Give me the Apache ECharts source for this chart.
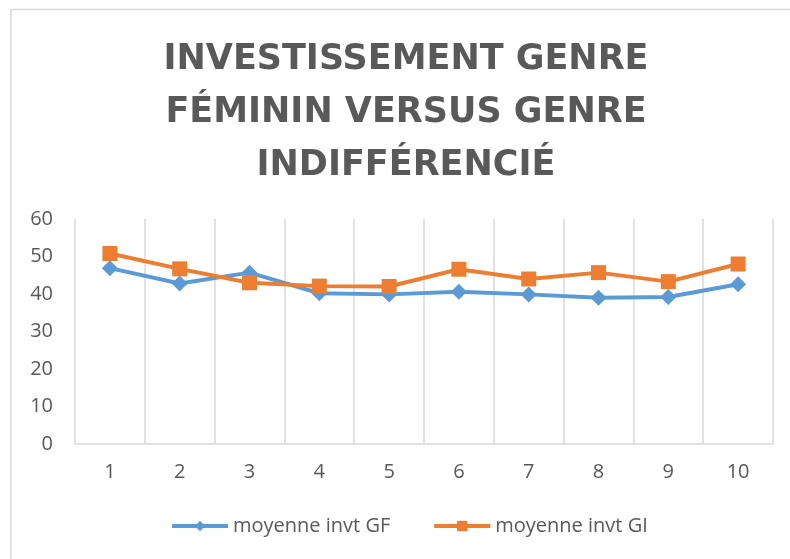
<!DOCTYPE html>
<html><head><meta charset="utf-8">
<script src="https://cdn.jsdelivr.net/npm/echarts@6/dist/echarts.min.js"></script>
<style>html,body{margin:0;padding:0;background:#fff}#c{width:790px;height:559px}</style>
</head><body><div id="c"></div>
<script>
const titleText = 'INVESTISSEMENT GENRE\nFÉMININ VERSUS GENRE\nINDIFFÉRENCIÉ';
const categories = ['1','2','3','4','5','6','7','8','9','10'];
const seriesGFName = 'moyenne invt GF';
const seriesGIName = 'moyenne invt GI';
const valuesGF = [46.9, 42.8, 45.7, 40.2, 39.9, 40.6, 39.9, 39.0, 39.2, 42.6];
const valuesGI = [50.8, 46.7, 43.0, 42.1, 42.0, 46.6, 44.0, 45.7, 43.3, 48.0];
const yMin = 0, yMax = 60, yStep = 10;

const chart = echarts.init(document.getElementById('c'));
const txt = '#595959';
const font = 'Open Sans';
chart.setOption({
  animation: false,
  backgroundColor: '#fff',
  graphic: [{type:'rect', shape:{x:11, y:9.5, width:820, height:620}, style:{fill:'none', stroke:'#d9d9d9', lineWidth:1.5}, silent:true}],
  title: {
    text: titleText, left: 401, top: 28, textAlign: 'center',
    textStyle: {fontFamily: 'DejaVu Sans', fontSize: 35, fontWeight: 'bold', color: txt, lineHeight: 53}
  },
  legend: {
    bottom: 18, left: 165, itemWidth: 56, itemHeight: 13, itemGap: 42,
    textStyle: {fontFamily: font, fontSize: 20, color: txt},
    lineStyle: {width: 4},
    data: [seriesGFName, seriesGIName]
  },
  grid: {left: 75, right: 17, top: 219, bottom: 115},
  xAxis: {
    type: 'category', data: categories, boundaryGap: true,
    axisLine: {lineStyle: {color: '#d9d9d9', width: 1.5}},
    axisTick: {show: false},
    axisLabel: {fontFamily: font, fontSize: 20, color: txt, margin: 18},
    splitLine: {show: true, lineStyle: {color: '#d9d9d9', width: 1.5}}
  },
  yAxis: {
    type: 'value', min: yMin, max: yMax, interval: yStep,
    axisLine: {show: false}, axisTick: {show: false},
    axisLabel: {fontFamily: font, fontSize: 20, color: txt, margin: 22},
    splitLine: {show: false}
  },
  series: [
    {name: seriesGFName, type: 'line', data: valuesGF, symbol: 'diamond', symbolSize: 16,
     lineStyle: {color: '#5B9BD5', width: 4}, itemStyle: {color: '#5B9BD5'}},
    {name: seriesGIName, type: 'line', data: valuesGI, symbol: 'rect', symbolSize: 15,
     lineStyle: {color: '#ED7D31', width: 4}, itemStyle: {color: '#ED7D31'}}
  ]
});
</script></body></html>
